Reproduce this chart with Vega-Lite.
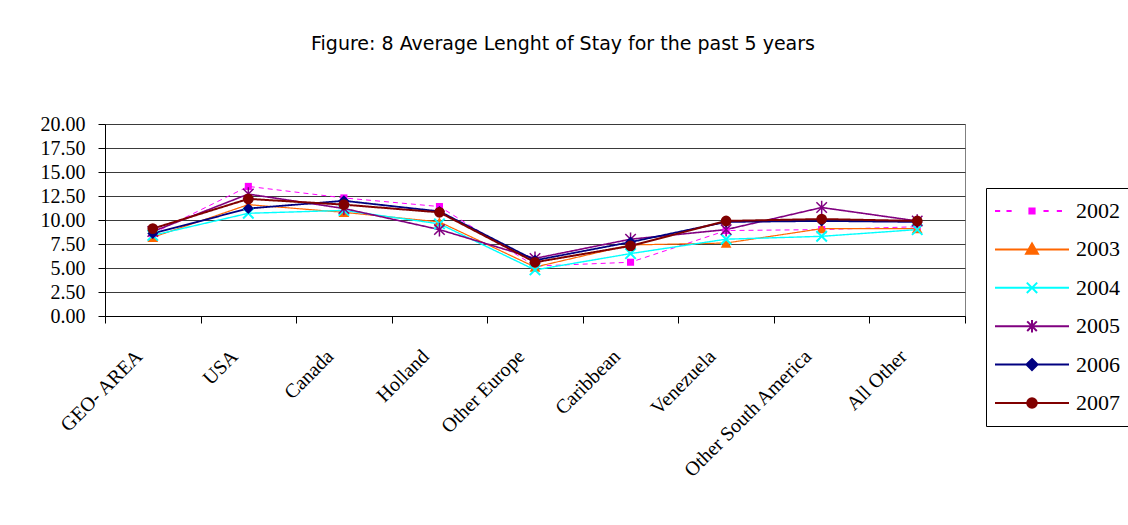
{
  "$schema": "https://vega.github.io/schema/vega-lite/v6.json",
  "background": "white",
  "autosize": {"type": "none"},
  "padding": {"left": 105, "top": 124, "right": 163, "bottom": 209},
  "width": 860,
  "height": 192,
  "title": {
    "text": "Figure: 8 Average Lenght of Stay for the past 5 years",
    "font": "DejaVu Sans",
    "fontSize": 19,
    "fontWeight": "normal",
    "color": "#000000",
    "anchor": "middle",
    "frame": "group",
    "baseline": "middle",
    "dx": 28,
    "offset": 51
  },
  "config": {
    "view": {"stroke": "#808080", "strokeWidth": 1},
    "style": {"guide-label": {"font": "Liberation Serif", "fill": "#000000"}},
    "legend": {"labelFont": "Liberation Serif", "labelFontSize": 22, "labelColor": "#000000"}
  },
  "data": {
    "values": [
      {"area": "GEO- AREA", "year": "2002", "value": 8.6},
      {"area": "USA", "year": "2002", "value": 13.5},
      {"area": "Canada", "year": "2002", "value": 12.3},
      {"area": "Holland", "year": "2002", "value": 11.4},
      {"area": "Other Europe", "year": "2002", "value": 5.2},
      {"area": "Caribbean", "year": "2002", "value": 5.6},
      {"area": "Venezuela", "year": "2002", "value": 8.9},
      {"area": "Other South  America", "year": "2002", "value": 9.0},
      {"area": "All Other", "year": "2002", "value": 9.3},

      {"area": "GEO- AREA", "year": "2003", "value": 8.2},
      {"area": "USA", "year": "2003", "value": 11.6},
      {"area": "Canada", "year": "2003", "value": 10.8},
      {"area": "Holland", "year": "2003", "value": 9.8},
      {"area": "Other Europe", "year": "2003", "value": 5.1},
      {"area": "Caribbean", "year": "2003", "value": 7.4},
      {"area": "Venezuela", "year": "2003", "value": 7.6},
      {"area": "Other South  America", "year": "2003", "value": 9.1},
      {"area": "All Other", "year": "2003", "value": 9.1},

      {"area": "GEO- AREA", "year": "2004", "value": 8.4},
      {"area": "USA", "year": "2004", "value": 10.7},
      {"area": "Canada", "year": "2004", "value": 11.0},
      {"area": "Holland", "year": "2004", "value": 9.6},
      {"area": "Other Europe", "year": "2004", "value": 4.8},
      {"area": "Caribbean", "year": "2004", "value": 6.5},
      {"area": "Venezuela", "year": "2004", "value": 8.0},
      {"area": "Other South  America", "year": "2004", "value": 8.3},
      {"area": "All Other", "year": "2004", "value": 9.0},

      {"area": "GEO- AREA", "year": "2005", "value": 8.8},
      {"area": "USA", "year": "2005", "value": 12.7},
      {"area": "Canada", "year": "2005", "value": 11.2},
      {"area": "Holland", "year": "2005", "value": 9.0},
      {"area": "Other Europe", "year": "2005", "value": 6.0},
      {"area": "Caribbean", "year": "2005", "value": 8.0},
      {"area": "Venezuela", "year": "2005", "value": 9.0},
      {"area": "Other South  America", "year": "2005", "value": 11.3},
      {"area": "All Other", "year": "2005", "value": 9.9},

      {"area": "GEO- AREA", "year": "2006", "value": 8.6},
      {"area": "USA", "year": "2006", "value": 11.2},
      {"area": "Canada", "year": "2006", "value": 12.0},
      {"area": "Holland", "year": "2006", "value": 10.9},
      {"area": "Other Europe", "year": "2006", "value": 5.8},
      {"area": "Caribbean", "year": "2006", "value": 7.7},
      {"area": "Venezuela", "year": "2006", "value": 9.8},
      {"area": "Other South  America", "year": "2006", "value": 9.9},
      {"area": "All Other", "year": "2006", "value": 9.8},

      {"area": "GEO- AREA", "year": "2007", "value": 9.1},
      {"area": "USA", "year": "2007", "value": 12.2},
      {"area": "Canada", "year": "2007", "value": 11.6},
      {"area": "Holland", "year": "2007", "value": 10.8},
      {"area": "Other Europe", "year": "2007", "value": 5.6},
      {"area": "Caribbean", "year": "2007", "value": 7.3},
      {"area": "Venezuela", "year": "2007", "value": 9.9},
      {"area": "Other South  America", "year": "2007", "value": 10.1},
      {"area": "All Other", "year": "2007", "value": 9.9}
    ]
  },
  "encoding": {
    "x": {
      "field": "area",
      "type": "nominal",
      "sort": ["GEO- AREA", "USA", "Canada", "Holland", "Other Europe", "Caribbean", "Venezuela", "Other South  America", "All Other"],
      "scale": {"paddingInner": 0, "paddingOuter": 0},
      "axis": {
        "title": null,
        "grid": false,
        "domainColor": "#000000",
        "tickColor": "#000000",
        "tickSize": 7,
        "tickBand": "extent",
        "labelAngle": -45,
        "labelAlign": "right",
        "labelBaseline": "middle",
        "labelPadding": 30,
        "labelOffset": -14,
        "labelFont": "Liberation Serif",
        "labelFontSize": 20,
        "labelColor": "#000000",
        "labelLimit": 400
      }
    },
    "y": {
      "field": "value",
      "type": "quantitative",
      "scale": {"domain": [0, 20], "nice": false},
      "axis": {
        "title": null,
        "values": [0, 2.5, 5, 7.5, 10, 12.5, 15, 17.5, 20],
        "format": ".2f",
        "grid": true,
        "gridColor": "#3a3a3a",
        "gridWidth": 1,
        "domainColor": "#000000",
        "tickColor": "#000000",
        "tickSize": 7,
        "labelPadding": 13,
        "labelFont": "Liberation Serif",
        "labelFontSize": 20,
        "labelColor": "#000000"
      }
    }
  },
  "layer": [
    {
      "mark": {"type": "line"},
      "encoding": {
        "color": {
          "field": "year",
          "type": "nominal",
          "scale": {"range": ["#FF00FF", "#FF6600", "#00FFFF", "#800080", "#000080", "#800000"]},
          "legend": null
        },
        "strokeDash": {
          "field": "year",
          "type": "nominal",
          "scale": {"range": [[5, 4], [1, 0], [1, 0], [1, 0], [1, 0], [1, 0]]},
          "legend": null
        },
        "strokeWidth": {
          "field": "year",
          "type": "ordinal",
          "scale": {"range": [1, 2, 2, 1.5, 2, 2]},
          "legend": null
        }
      }
    },
    {
      "transform": [{"filter": {"field": "year", "equal": "2002"}}],
      "mark": {"type": "point", "shape": "square", "filled": true, "opacity": 1, "size": 50, "color": "#FF00FF"}
    },
    {
      "transform": [{"filter": {"field": "year", "equal": "2003"}}],
      "mark": {"type": "point", "shape": "triangle-up", "filled": true, "opacity": 1, "size": 115, "color": "#FF6600"}
    },
    {
      "transform": [{"filter": {"field": "year", "equal": "2004"}}],
      "mark": {"type": "point", "shape": "M-1,-1L1,1M-1,1L1,-1", "filled": false, "opacity": 1, "size": 110, "strokeWidth": 2, "color": "#00FFFF"}
    },
    {
      "transform": [{"filter": {"field": "year", "equal": "2005"}}],
      "mark": {"type": "point", "shape": "M-1,-1L1,1M-1,1L1,-1M0,-1.3L0,1.3", "filled": false, "opacity": 1, "size": 110, "strokeWidth": 1.5, "color": "#800080"}
    },
    {
      "transform": [{"filter": {"field": "year", "equal": "2006"}}],
      "mark": {"type": "point", "shape": "diamond", "filled": true, "opacity": 1, "size": 120, "color": "#000080"}
    },
    {
      "transform": [{"filter": {"field": "year", "equal": "2007"}}],
      "mark": {"type": "point", "shape": "circle", "filled": true, "opacity": 1, "size": 115, "color": "#800000"}
    },
    {
      "transform": [{"filter": "false"}],
      "mark": {"type": "point", "filled": true, "opacity": 1, "strokeWidth": 2},
      "encoding": {
        "fill": {
          "field": "year",
          "type": "nominal",
          "scale": {
            "domain": ["2002", "2003", "2004", "2005", "2006", "2007"],
            "range": ["#FF00FF", "#FF6600", "#00FFFF", "#800080", "#000080", "#800000"]
          },
          "legend": {
            "title": null,
            "orient": "none",
            "legendX": 881,
            "legendY": 64,
            "strokeColor": "#000000",
            "fillColor": "#FFFFFF",
            "padding": 8,
            "symbolSize": 5476,
            "symbolStrokeWidth": 2,
            "symbolOpacity": 1,
            "clipHeight": 30,
            "rowPadding": 8.4,
            "labelOffset": 6,
            "labelFont": "Liberation Serif",
            "labelFontSize": 22,
            "labelColor": "#000000",
            "labelLimit": 200
          }
        },
        "stroke": {
          "field": "year",
          "type": "nominal",
          "scale": {
            "domain": ["2002", "2003", "2004", "2005", "2006", "2007"],
            "range": ["#FF00FF", "#FF6600", "#00FFFF", "#800080", "#000080", "#800000"]
          },
          "legend": {
            "title": null,
            "orient": "none",
            "legendX": 881,
            "legendY": 64,
            "strokeColor": "#000000",
            "fillColor": "#FFFFFF",
            "padding": 8,
            "symbolSize": 5476,
            "symbolStrokeWidth": 2,
            "symbolOpacity": 1,
            "clipHeight": 30,
            "rowPadding": 8.4,
            "labelOffset": 6,
            "labelFont": "Liberation Serif",
            "labelFontSize": 22,
            "labelColor": "#000000",
            "labelLimit": 200
          }
        },
        "shape": {
          "field": "year",
          "type": "nominal",
          "scale": {
            "domain": ["2002", "2003", "2004", "2005", "2006", "2007"],
            "range": [
              "M-1,0H-0.86M-0.69,0H-0.55M0.31,0H0.45M0.67,0H0.81M-0.07,-0.07H0.07V0.07H-0.07Z",
              "M-1,0H1M0,-0.16L0.16,0.12H-0.16Z",
              "M-1,0H1M-0.14,-0.14L0.14,0.14M-0.14,0.14L0.14,-0.14",
              "M-1,0H1M-0.13,-0.13L0.13,0.13M-0.13,0.13L0.13,-0.13M0,-0.17V0.17",
              "M-1,0H1M0,-0.15L0.15,0L0,0.15L-0.15,0Z",
              "M-1,0H1M-0.13,0A0.13,0.13 0 1,0 0.13,0A0.13,0.13 0 1,0 -0.13,0Z"
            ]
          },
          "legend": {
            "title": null,
            "orient": "none",
            "legendX": 881,
            "legendY": 64,
            "strokeColor": "#000000",
            "fillColor": "#FFFFFF",
            "padding": 8,
            "symbolSize": 5476,
            "symbolStrokeWidth": 2,
            "symbolOpacity": 1,
            "clipHeight": 30,
            "rowPadding": 8.4,
            "labelOffset": 6,
            "labelFont": "Liberation Serif",
            "labelFontSize": 22,
            "labelColor": "#000000",
            "labelLimit": 200
          }
        }
      }
    }
  ]
}
